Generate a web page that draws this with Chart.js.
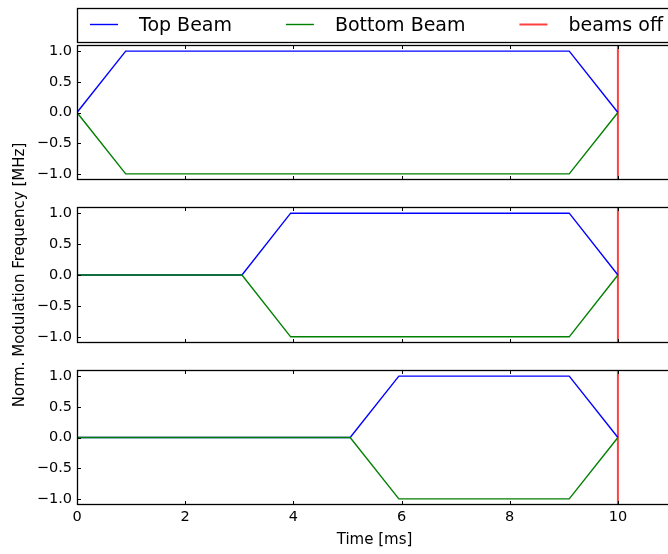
<!DOCTYPE html>
<html>
<head>
<meta charset="utf-8">
<script src="https://cdn.jsdelivr.net/npm/chart.js@4/dist/chart.umd.min.js"></script>
<style>
  html, body { margin: 0; padding: 0; background: #fff; overflow: hidden; }
  #wrap { position: relative; width: 668px; height: 554px; overflow: hidden; }
  #wrap canvas { position: absolute; left: 0; top: 0; }
</style>
</head>
<body>
<div id="wrap">
  <canvas id="panel1" width="680" height="554"></canvas>
  <canvas id="panel2" width="680" height="554"></canvas>
  <canvas id="panel3" width="680" height="554"></canvas>
</div>
<script>
// modulation ramps for the three switching sequences (time in ms)
var times1 = [0, 0.9, 9.1, 10];
var topBeam1 = [0, 1, 1, 0];
var bottomBeam1 = [0, -1, -1, 0];

var times2 = [0, 3.05, 3.95, 9.1, 10];
var topBeam2 = [0, 0, 1, 1, 0];
var bottomBeam2 = [0, 0, -1, -1, 0];

var times3 = [0, 5.05, 5.95, 9.1, 10];
var topBeam3 = [0, 0, 1, 1, 0];
var bottomBeam3 = [0, 0, -1, -1, 0];

var beamsOff = 10;
var seriesNames = ["Top Beam", "Bottom Beam", "beams off"];
var seriesColors = ["#0000ff", "#008000", "rgba(255,0,0,0.75)"];

var xTicks = [0, 2, 4, 6, 8, 10];
var yTicks = [-1, -0.5, 0, 0.5, 1];
var xRange = [0, 11];
var yRange = [-1.1, 1.1];

var FONT = "'DejaVu Sans', sans-serif";

function points(xs, ys) {
  return xs.map(function (x, i) { return { x: x, y: ys[i] }; });
}

function fmt(v) {
  return v.toFixed(1).replace("-", "\u2212");
}

// box around the axes + inward ticks on all four sides
var framePlugin = {
  id: "frame",
  afterDatasetsDraw: function (chart) {
    var ctx = chart.ctx, a = chart.chartArea;
    var xs = chart.scales.x, ys = chart.scales.y;
    ctx.save();
    ctx.strokeStyle = "#000";
    ctx.lineWidth = 1;
    ctx.beginPath();
    xTicks.forEach(function (v) {
      var px = Math.round(xs.getPixelForValue(v)) + 0.5;
      ctx.moveTo(px, a.top); ctx.lineTo(px, a.top + 4);
      ctx.moveTo(px, a.bottom); ctx.lineTo(px, a.bottom - 4);
    });
    yTicks.forEach(function (v) {
      var py = Math.round(ys.getPixelForValue(v)) + 0.5;
      ctx.moveTo(a.left, py); ctx.lineTo(a.left + 4, py);
      ctx.moveTo(a.right, py); ctx.lineTo(a.right - 4, py);
    });
    ctx.stroke();
    ctx.lineWidth = 1.3;
    ctx.strokeRect(a.left + 0.5, a.top + 0.5, a.right - a.left - 1, a.bottom - a.top - 1);
    ctx.restore();
  }
};

// legend row above the first panel, columns spread across the axes width
var legendRow = {
  id: "legendRow",
  afterDraw: function (chart) {
    if (!chart.options.plugins.legendRow || !chart.options.plugins.legendRow.show) return;
    var ctx = chart.ctx, a = chart.chartArea;
    var boxTop = 8, boxBottom = 42;
    var handle = 28, gap = 21, padL = 13, padR = 9;
    ctx.save();
    ctx.font = "19px " + FONT;
    var widths = chart.data.datasets.map(function (d) {
      return handle + gap + ctx.measureText(d.label).width;
    });
    var used = widths.reduce(function (s, w) { return s + w; }, 0);
    var spacing = (a.right - a.left - padL - padR - used) / (widths.length - 1);
    ctx.strokeStyle = "#000";
    ctx.lineWidth = 1.3;
    ctx.strokeRect(a.left + 0.5, boxTop + 0.5, a.right - a.left - 1, boxBottom - boxTop);
    var x = a.left + padL;
    chart.data.datasets.forEach(function (d, i) {
      ctx.strokeStyle = d.borderColor;
      ctx.lineWidth = d.borderWidth;
      ctx.beginPath();
      ctx.moveTo(x, 24.5);
      ctx.lineTo(x + handle, 24.5);
      ctx.stroke();
      ctx.fillStyle = "#000";
      ctx.textBaseline = "alphabetic";
      ctx.fillText(d.label, x + handle + gap, 31);
      x += widths[i] + spacing;
    });
    ctx.restore();
  }
};

function makePanel(id, xs, top, bottom, cfg) {
  var offLine = [{ x: beamsOff, y: yRange[0] }, { x: beamsOff, y: yRange[1] }];
  return new Chart(document.getElementById(id), {
    type: "line",
    data: {
      datasets: [
        { label: seriesNames[0], data: points(xs, top), borderColor: seriesColors[0], borderWidth: 1.4, order: 1 },
        { label: seriesNames[1], data: points(xs, bottom), borderColor: seriesColors[1], borderWidth: 1.4, order: 0 },
        { label: seriesNames[2], data: offLine, borderColor: seriesColors[2], borderWidth: 2, order: 2 }
      ]
    },
    options: {
      responsive: false,
      animation: false,
      devicePixelRatio: 1,
      events: [],
      layout: { padding: { top: cfg.top, bottom: cfg.bottom, left: 0, right: 8 } },
      elements: { point: { radius: 0 }, line: { tension: 0 } },
      plugins: {
        legend: { display: false },
        tooltip: { enabled: false },
        legendRow: { show: !!cfg.legend }
      },
      scales: {
        x: {
          type: "linear",
          min: xRange[0],
          max: xRange[1],
          display: !!cfg.xLabels,
          afterBuildTicks: function (s) { s.ticks = xTicks.map(function (v) { return { value: v }; }); },
          afterFit: function (s) { if (cfg.xLabels) s.height = 49; },
          grid: { display: false, drawTicks: false },
          border: { display: false },
          ticks: { color: "#000", padding: 4, maxRotation: 0, font: { family: FONT, size: 14.5 } },
          title: {
            display: !!cfg.xLabels,
            text: "Time [ms]",
            color: "#000",
            padding: { top: 0, bottom: 5 },
            font: { family: FONT, size: 15 }
          }
        },
        y: {
          min: yRange[0],
          max: yRange[1],
          afterBuildTicks: function (s) { s.ticks = yTicks.map(function (v) { return { value: v }; }); },
          afterFit: function (s) { s.width = 77; },
          grid: { display: false, drawTicks: false },
          border: { display: false },
          ticks: { color: "#000", padding: 5, font: { family: FONT, size: 14.5 }, callback: fmt },
          title: {
            display: !!cfg.yTitle,
            text: "Norm. Modulation Frequency [MHz]",
            color: "#000",
            padding: { top: 11, bottom: 0 },
            font: { family: FONT, size: 15 }
          }
        }
      }
    },
    plugins: [framePlugin, legendRow]
  });
}

makePanel("panel1", times1, topBeam1, bottomBeam1, { top: 45, bottom: 374, legend: true });
makePanel("panel2", times2, topBeam2, bottomBeam2, { top: 207, bottom: 211, yTitle: true });
makePanel("panel3", times3, topBeam3, bottomBeam3, { top: 370, bottom: 0, xLabels: true });
</script>
</body>
</html>
